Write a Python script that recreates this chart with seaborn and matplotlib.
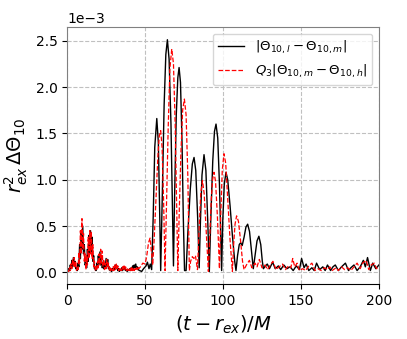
import matplotlib
matplotlib.use('Agg')
import matplotlib.pyplot as plt
import seaborn as sns
import pandas as pd
import numpy as np

# black: |Theta_10,l - Theta_10,m|  (units of 1e-3)
t_lm = [0, 0.5, 1, 1.5, 2, 2.5, 3, 3.5, 4, 4.5, 5, 5.5, 6, 6.5, 7, 7.5, 8, 8.5, 9, 9.5,
        10, 10.5, 11, 11.5, 12, 12.5, 13, 13.5, 14, 14.5, 15, 15.5, 16, 16.5, 17, 17.5, 18, 18.5, 19, 19.5,
        20, 20.5, 21, 21.5, 22, 22.5, 23, 23.5, 24, 24.5, 25, 25.5, 26, 26.5, 27, 27.5, 28, 28.5, 29, 29.5,
        30, 30.5, 31, 31.5, 32, 32.5, 33, 33.5, 34, 34.5, 35, 35.5, 36, 36.5, 37, 37.5, 38, 38.5, 39, 39.5,
        40, 40.5, 41, 41.5, 42, 42.5, 43, 43.5, 44, 44.5, 45, 45.5,
        46.5, 47.8, 49, 50.6, 51.5, 52.5, 53.3, 54.2,
        55.2, 56.2, 57.5, 58.5, 59.3, 60,
        61, 62.2, 63.3, 64.3, 65.4, 66.6, 67.6, 68.2,
        68.9, 70, 71, 71.8, 72.7, 73.7, 74.5, 75.3,
        76.3, 77.5, 79, 80.3, 81.4, 82.5, 83.7, 84.7,
        85.5, 86.5, 87.8, 89, 90.2, 91.2,
        92.2, 93.4, 94.5, 95.5, 96.6, 97.7, 98.6, 99.1,
        99.8, 100.8, 101.9, 103, 104.5, 106, 107.5, 108.3,
        109.3, 110.4, 111.3, 112.3, 113.5, 114.7, 115.8, 117, 118.3, 119.4,
        120.5, 121.8, 123, 124.2, 125.2, 125.9,
        127.2, 128.4, 129.8, 131.8, 133.5, 135.5, 137, 139, 141, 143, 145, 147, 149,
        150.4, 152, 153.3, 155, 157, 158.5, 160, 162, 164, 165.5, 167, 169, 170.5, 172,
        174, 176, 178.5, 180.5, 182, 184, 186, 188, 190, 191.3, 192.7, 194.5, 196, 198, 200]
v_lm = [0.02, 0.01, 0.04, 0.02, 0.08, 0.04, 0.13, 0.06, 0.16, 0.08, 0.12, 0.04, 0.05, 0.02, 0.10, 0.06, 0.30, 0.15, 0.45, 0.25,
        0.50, 0.20, 0.30, 0.08, 0.10, 0.05, 0.25, 0.12, 0.40, 0.20, 0.45, 0.22, 0.38, 0.12, 0.18, 0.04, 0.05, 0.02, 0.10, 0.05,
        0.18, 0.09, 0.22, 0.08, 0.15, 0.05, 0.08, 0.04, 0.10, 0.06, 0.15, 0.07, 0.14, 0.04, 0.06, 0.02, 0.03, 0.01, 0.04, 0.02,
        0.06, 0.03, 0.08, 0.04, 0.07, 0.02, 0.04, 0.01, 0.03, 0.02, 0.05, 0.02, 0.06, 0.03, 0.05, 0.02, 0.03, 0.01, 0.03, 0.02,
        0.04, 0.02, 0.05, 0.03, 0.07, 0.04, 0.08, 0.05, 0.09, 0.04, 0.06, 0.03,
        0.02, 0.01, 0.04, 0.07, 0.11, 0.04, 0.09, 0.03,
        0.60, 1.35, 1.66, 1.40, 0.70, 0.02,
        0.80, 1.80, 2.35, 2.51, 2.30, 1.60, 0.60, 0.07,
        0.80, 1.70, 2.10, 2.21, 2.05, 1.40, 0.60, 0.02,
        0.02, 0.45, 0.90, 1.17, 1.24, 1.10, 0.60, 0.05,
        0.55, 1.05, 1.27, 1.10, 0.55, 0.01,
        0.60, 1.20, 1.52, 1.60, 1.45, 0.95, 0.35, 0.02,
        0.55, 0.95, 1.08, 1.00, 0.72, 0.40, 0.12, 0.02,
        0.18, 0.30, 0.32, 0.29, 0.38, 0.49, 0.52, 0.44, 0.22, 0.04,
        0.18, 0.34, 0.39, 0.30, 0.12, 0.04,
        0.07, 0.09, 0.04, 0.11, 0.04, 0.07, 0.03, 0.08, 0.04, 0.06, 0.02, 0.07, 0.03,
        0.15, 0.05, 0.09, 0.02, 0.05, 0.02, 0.10, 0.03, 0.06, 0.02, 0.08, 0.02, 0.06, 0.08,
        0.02, 0.06, 0.10, 0.02, 0.05, 0.08, 0.02, 0.06, 0.13, 0.06, 0.16, 0.02, 0.10, 0.04, 0.08]

# red dashed: Q3 |Theta_10,m - Theta_10,h|  (units of 1e-3)
t_mh = [0, 0.5, 1, 1.5, 2, 2.5, 3, 3.5, 4, 4.5, 5, 5.5, 6, 6.5, 7, 7.5, 8, 8.5, 9, 9.5,
        10, 10.5, 11, 11.5, 12, 12.5, 13, 13.5, 14, 14.5, 15, 15.5, 16, 16.5, 17, 17.5, 18, 18.5, 19, 19.5,
        20, 20.5, 21, 21.5, 22, 22.5, 23, 23.5, 24, 24.5, 25, 25.5, 26, 26.5, 27, 27.5, 28, 28.5, 29, 29.5,
        30, 30.5, 31, 31.5, 32, 32.5, 33, 33.5, 34, 34.5, 35, 35.5, 36, 36.5, 37, 37.5, 38, 38.5, 39, 39.5,
        40, 40.5, 41, 41.5, 42, 42.5, 43, 43.5, 44, 44.5, 45, 45.5, 46,
        47, 48.5, 50, 51, 52.2, 53.2, 54.2, 54.9,
        55.8, 57, 58.2, 59.1, 60, 60.9, 61.9, 62.8,
        63.7, 64.8, 65.9, 67.1, 68.2, 69.3, 70.3, 71,
        71.9, 73, 74.1, 75.2, 76.3, 77.4, 78.4,
        79.2, 80.3, 81.3, 82.3, 83.0, 83.6,
        84.6, 85.7, 86.8, 87.9, 89.2, 90.6,
        91.5, 92.5, 93.3, 94.2, 95.2, 96.4, 97.7,
        98.5, 99.5, 100.6, 101.7, 103, 104.5, 106,
        106.8, 107.7, 108.7, 109.9, 111.2, 112.5, 113.5,
        115, 116.9, 118.5, 120.5, 121.8, 123.3, 125, 127, 128.5, 130, 132, 134, 136, 138.2, 140,
        142, 143.5, 144.7, 146, 147.5, 149, 151, 153, 155, 157, 159, 161, 163, 165, 167, 168.5,
        170, 172.5, 174, 176, 178, 180, 182, 184, 186, 188, 189.5, 191.8, 193.5, 195, 197, 198.5, 200]
v_mh = [0.01, 0.03, 0.01, 0.05, 0.02, 0.09, 0.04, 0.14, 0.06, 0.16, 0.05, 0.12, 0.02, 0.06, 0.03, 0.22, 0.10, 0.45, 0.20, 0.58,
        0.25, 0.42, 0.12, 0.20, 0.03, 0.18, 0.08, 0.38, 0.15, 0.45, 0.20, 0.44, 0.15, 0.30, 0.06, 0.12, 0.02, 0.06, 0.02, 0.12,
        0.05, 0.20, 0.08, 0.25, 0.10, 0.23, 0.06, 0.14, 0.03, 0.10, 0.04, 0.14, 0.05, 0.10, 0.02, 0.05, 0.01, 0.04, 0.02, 0.06,
        0.02, 0.08, 0.03, 0.09, 0.03, 0.07, 0.02, 0.04, 0.01, 0.04, 0.02, 0.06, 0.02, 0.07, 0.03, 0.06, 0.02, 0.04, 0.01, 0.03,
        0.02, 0.05, 0.02, 0.06, 0.02, 0.05, 0.02, 0.04, 0.02, 0.05, 0.03, 0.06, 0.04,
        0.06, 0.10, 0.09, 0.17, 0.32, 0.37, 0.20, 0.08,
        0.35, 0.80, 1.25, 1.47, 1.53, 1.35, 0.75, 0.02,
        0.70, 1.55, 2.20, 2.41, 2.25, 1.60, 0.70, 0.02,
        0.65, 1.30, 1.75, 1.87, 1.70, 1.05, 0.02,
        0.12, 0.17, 0.15, 0.18, 0.10, 0.03,
        0.45, 0.85, 0.99, 0.85, 0.45, 0.01,
        0.40, 0.80, 1.00, 1.08, 0.98, 0.60, 0.04,
        0.60, 1.10, 1.28, 1.18, 0.80, 0.35, 0.01,
        0.30, 0.52, 0.61, 0.55, 0.35, 0.12, 0.03,
        0.08, 0.13, 0.05, 0.10, 0.06, 0.14, 0.05, 0.08, 0.03, 0.07, 0.12, 0.03, 0.06, 0.09, 0.03,
        0.07, 0.05, 0.15, 0.06, 0.10, 0.02, 0.04, 0.02, 0.07, 0.10, 0.02, 0.04, 0.02, 0.05, 0.03, 0.06,
        0.02, 0.05, 0.02, 0.06, 0.03, 0.05, 0.02, 0.06, 0.10, 0.04, 0.10, 0.13, 0.03, 0.08, 0.10, 0.04, 0.06]

label_lm = r'$|\Theta_{10,l}-\Theta_{10,m}|$'
label_mh = r'$Q_3|\Theta_{10,m}-\Theta_{10,h}|$'

df_lm = pd.DataFrame({'t': t_lm, 'v': np.array(v_lm) * 1e-3})
df_mh = pd.DataFrame({'t': t_mh, 'v': np.array(v_mh) * 1e-3})

fig = plt.figure(figsize=(4.07, 3.39), dpi=100)
ax = fig.add_axes([0.165, 0.162, 0.766, 0.758])

sns.lineplot(data=df_lm, x='t', y='v', ax=ax, color='black', lw=1.0, label=label_lm,
             sort=False, estimator=None)
sns.lineplot(data=df_mh, x='t', y='v', ax=ax, color='red', lw=0.9, ls='--', label=label_mh,
             sort=False, estimator=None)

ax.set_xlim(0, 200)
ax.set_ylim(-0.126e-3, 2.646e-3)
ax.set_xticks([0, 50, 100, 150, 200])
ax.set_yticks([0, 0.5e-3, 1.0e-3, 1.5e-3, 2.0e-3, 2.5e-3])
ax.ticklabel_format(style='sci', axis='y', scilimits=(0, 0))
ax.grid(True, ls='--', color='#c0c0c0', lw=0.8)
ax.tick_params(labelsize=10)
for s in ['left', 'right', 'top']:
    ax.spines[s].set_color('#808080')
ax.spines['bottom'].set_color('black')

ax.set_xlabel(r'$(t-r_{ex})/M$', fontsize=14)
ax.set_ylabel(r'$r_{ex}^2\,\Delta\Theta_{10}$', fontsize=14)
ax.legend(loc='upper right', fontsize=9.5, handlelength=2.0)

plt.savefig('out.png', dpi=100)
plt.close()
